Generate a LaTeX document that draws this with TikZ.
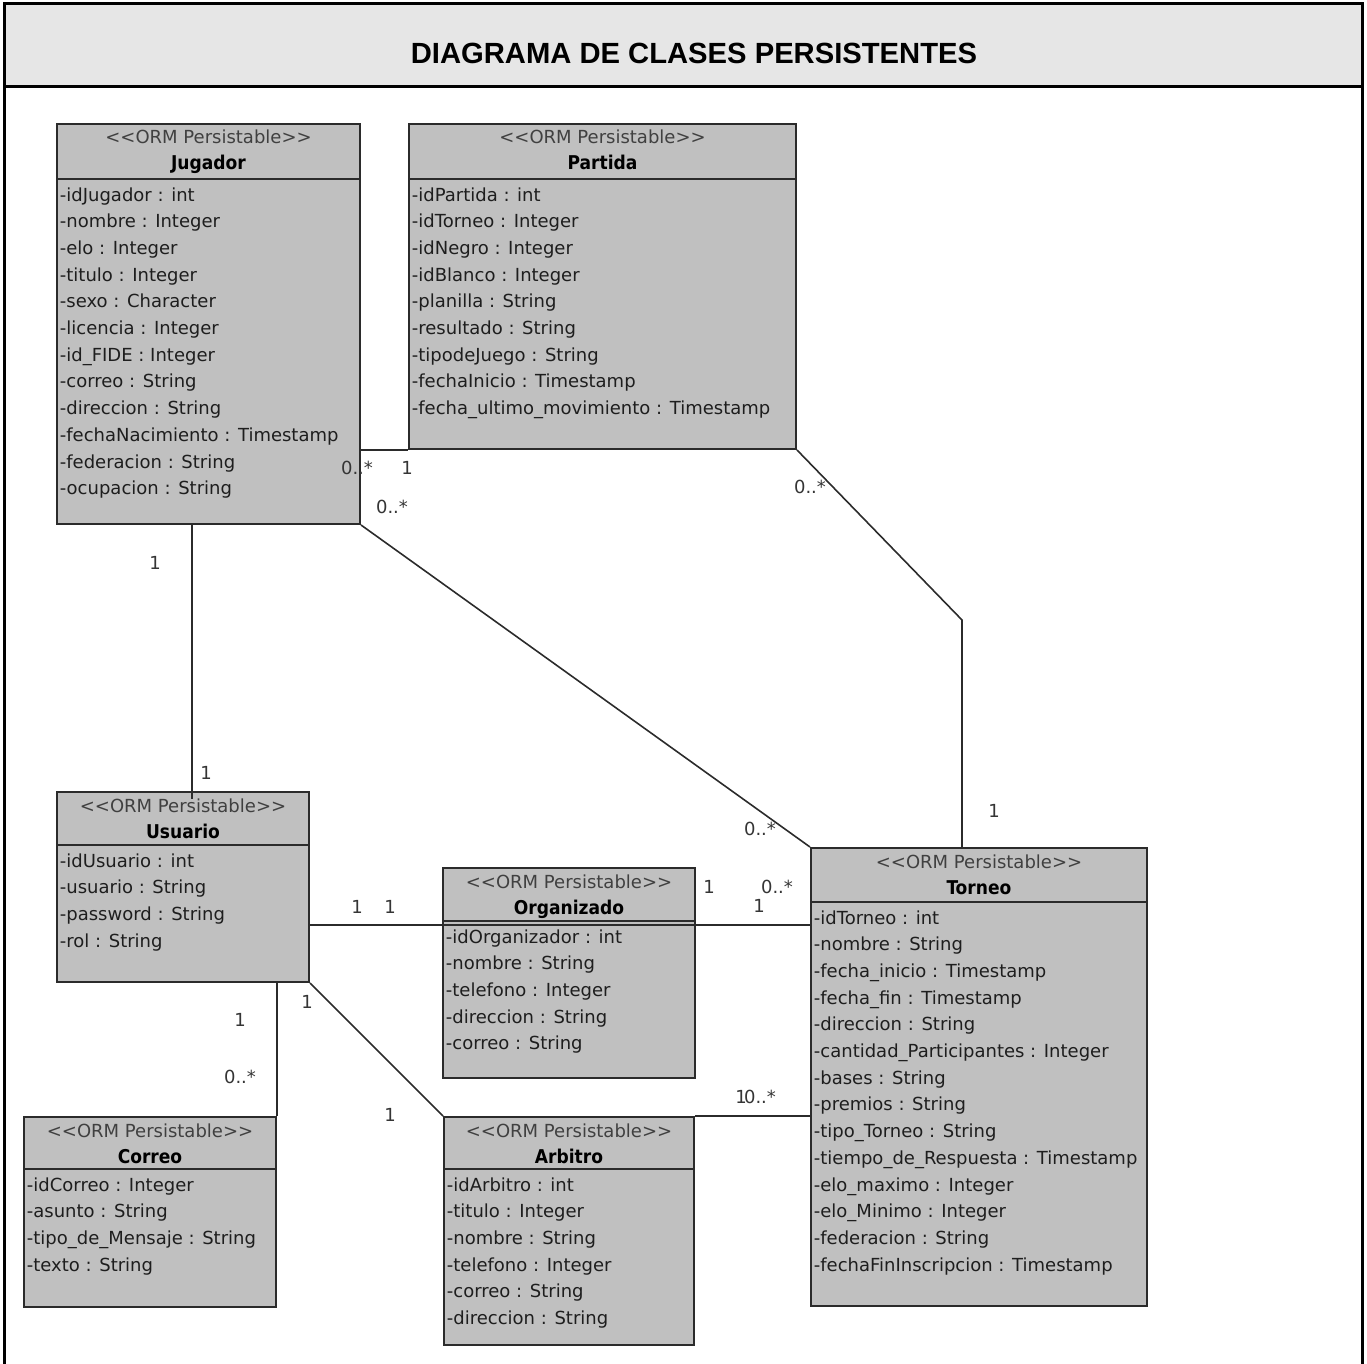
\documentclass[tikz,border=0pt]{standalone}
\usepackage{fontspec}
\setmainfont{DejaVu Sans}
\newfontfamily\titlefont{Liberation Sans}
\newfontfamily\namefont{DejaVu Sans Condensed}
\usetikzlibrary{fit,calc}

\definecolor{headfill}{HTML}{E6E6E6}
\definecolor{boxfill}{HTML}{C0C0C0}
\definecolor{ink}{HTML}{2B2B2B}
\definecolor{txt}{HTML}{1E1E1E}

\tikzset{
  frameline/.style={line width=1.5pt, draw=black},
  classbox/.style={draw=ink, fill=boxfill, line width=1pt, inner sep=0pt},
  classline/.style={draw=ink, line width=1pt},
  stereo/.style={anchor=base, inner sep=0pt, text=txt!85,
    font=\fontsize{9}{11}\selectfont},
  cname/.style={anchor=base, inner sep=0pt, text=black,
    font=\namefont\bfseries\fontsize{9.5}{11}\selectfont},
  attrs/.style={anchor=north west, inner sep=0pt, align=left, text=txt,
    font=\fontsize{9}{13.35}\selectfont},
  assoc/.style={draw=ink, line width=0.8pt},
  mult/.style={inner sep=0pt, text=txt!90, font=\fontsize{9}{11}\selectfont},
}

% \umlclass{id}{x1}{y1}{x2}{y2}{y of divider}{name}{attributes}
\newcommand{\umlclass}[8]{%
  \node[classbox, fit={(#2,#3) (#4,#5)}] (#1) {};
  \draw[classline] (#2,#6) -- (#4,#6);
  \node[stereo] (#1-st) at ({(#2+#4)/2},#3+20) {{<}{<}ORM Persistable{>}{>}};
  \node[cname] (#1-nm) at ({(#2+#4)/2},#3+46) {#7};
  \node[attrs] (#1-at) at (#2+2.5,#6+8) {#8};
}

\begin{document}
\begin{tikzpicture}[x=0.5pt, y=-0.5pt]
\useasboundingbox (0,0) rectangle (1367,1364);

% page frame with title band
\fill[headfill] (4,4) rectangle (1362,87);
\draw[frameline] (4,1366) -- (4,4) -- (1362,4) -- (1362,1366);
\draw[frameline] (4,87) -- (1362,87);
\node[anchor=base, inner sep=0pt, font=\titlefont\bfseries\fontsize{14.6}{16}\selectfont]
  (title) at (694,64) {DIAGRAMA DE CLASES PERSISTENTES};

% classes
\umlclass{jug}{57}{124}{360}{524}{179}{Jugador}{%
  -idJugador : int\\ -nombre : Integer\\ -elo : Integer\\ -titulo : Integer\\
  -sexo : Character\\ -licencia : Integer\\ -id\_FIDE : Integer\\
  -correo : String\\ -direccion : String\\ -fechaNacimiento : Timestamp\\
  -federacion : String\\ -ocupacion : String}

\umlclass{par}{409}{124}{796}{449}{179}{Partida}{%
  -idPartida : int\\ -idTorneo : Integer\\ -idNegro : Integer\\
  -idBlanco : Integer\\ -planilla : String\\ -resultado : String\\
  -tipodeJuego : String\\ -fechaInicio : Timestamp\\
  -fecha\_ultimo\_movimiento : Timestamp}

\umlclass{usu}{57}{792}{309}{982}{845}{Usuario}{%
  -idUsuario : int\\ -usuario : String\\ -password : String\\ -rol : String}

\umlclass{org}{443}{868}{695}{1078}{921}{Organizado}{%
  -idOrganizador : int\\ -nombre : String\\ -telefono : Integer\\
  -direccion : String\\ -correo : String}

\umlclass{tor}{811}{848}{1147}{1306}{902}{Torneo}{%
  -idTorneo : int\\ -nombre : String\\ -fecha\_inicio : Timestamp\\
  -fecha\_fin : Timestamp\\ -direccion : String\\
  -cantidad\_Participantes : Integer\\ -bases : String\\ -premios : String\\
  -tipo\_Torneo : String\\ -tiempo\_de\_Respuesta : Timestamp\\
  -elo\_maximo : Integer\\ -elo\_Minimo : Integer\\ -federacion : String\\
  -fechaFinInscripcion : Timestamp}

\umlclass{cor}{24}{1117}{276}{1307}{1169}{Correo}{%
  -idCorreo : Integer\\ -asunto : String\\ -tipo\_de\_Mensaje : String\\
  -texto : String}

\umlclass{arb}{444}{1117}{694}{1345}{1169}{Arbitro}{%
  -idArbitro : int\\ -titulo : Integer\\ -nombre : String\\
  -telefono : Integer\\ -correo : String\\ -direccion : String}

% routing points
\coordinate (jx) at (192,0);
\coordinate (bend) at (962,620);
\coordinate (hy) at (0,925);

% associations
\draw[assoc] (jug.east |- par.south west) -- (par.south west);
\draw[assoc] (par.south east) -- (bend) -- (bend |- tor.north);
\draw[assoc] (jug.south east) -- (tor.north west);
\draw[assoc] (jug.south -| jx) -- ($(usu.north -| jx)+(0,8)$);
\draw[assoc] (usu.east |- hy) -- (org.west |- hy);
\draw[assoc] (org.west |- hy) -- (org.east |- hy);
\draw[assoc] (org.east |- hy) -- (tor.west |- hy);
\draw[assoc] (usu.south -| cor.north east) -- (cor.north east);
\draw[assoc] (usu.south east) -- (arb.north west);
\draw[assoc] (arb.north east) -- (tor.west |- arb.north east);

% multiplicities
\node[mult] (m1)  at (357,468)  {0..*};
\node[mult] (m2)  at (407,468)  {1};
\node[mult] (m3)  at (392,507)  {0..*};
\node[mult] (m4)  at (810,487)  {0..*};
\node[mult] (m5)  at (994,811)  {1};
\node[mult] (m6)  at (760,829)  {0..*};
\node[mult] (m7)  at (155,563)  {1};
\node[mult] (m8)  at (206,773)  {1};
\node[mult] (m9)  at (357,907)  {1};
\node[mult] (m10) at (390,907)  {1};
\node[mult] (m11) at (709,887)  {1};
\node[mult] (m12) at (777,887)  {0..*};
\node[mult] (m13) at (759,906)  {1};
\node[mult] (m14) at (240,1020) {1};
\node[mult] (m15) at (240,1077) {0..*};
\node[mult] (m16) at (307,1002) {1};
\node[mult] (m17) at (390,1115) {1};
\node[mult] (m18) at (741,1097) {1};
\node[mult] (m19) at (760,1097) {0..*};
\end{tikzpicture}
\end{document}
